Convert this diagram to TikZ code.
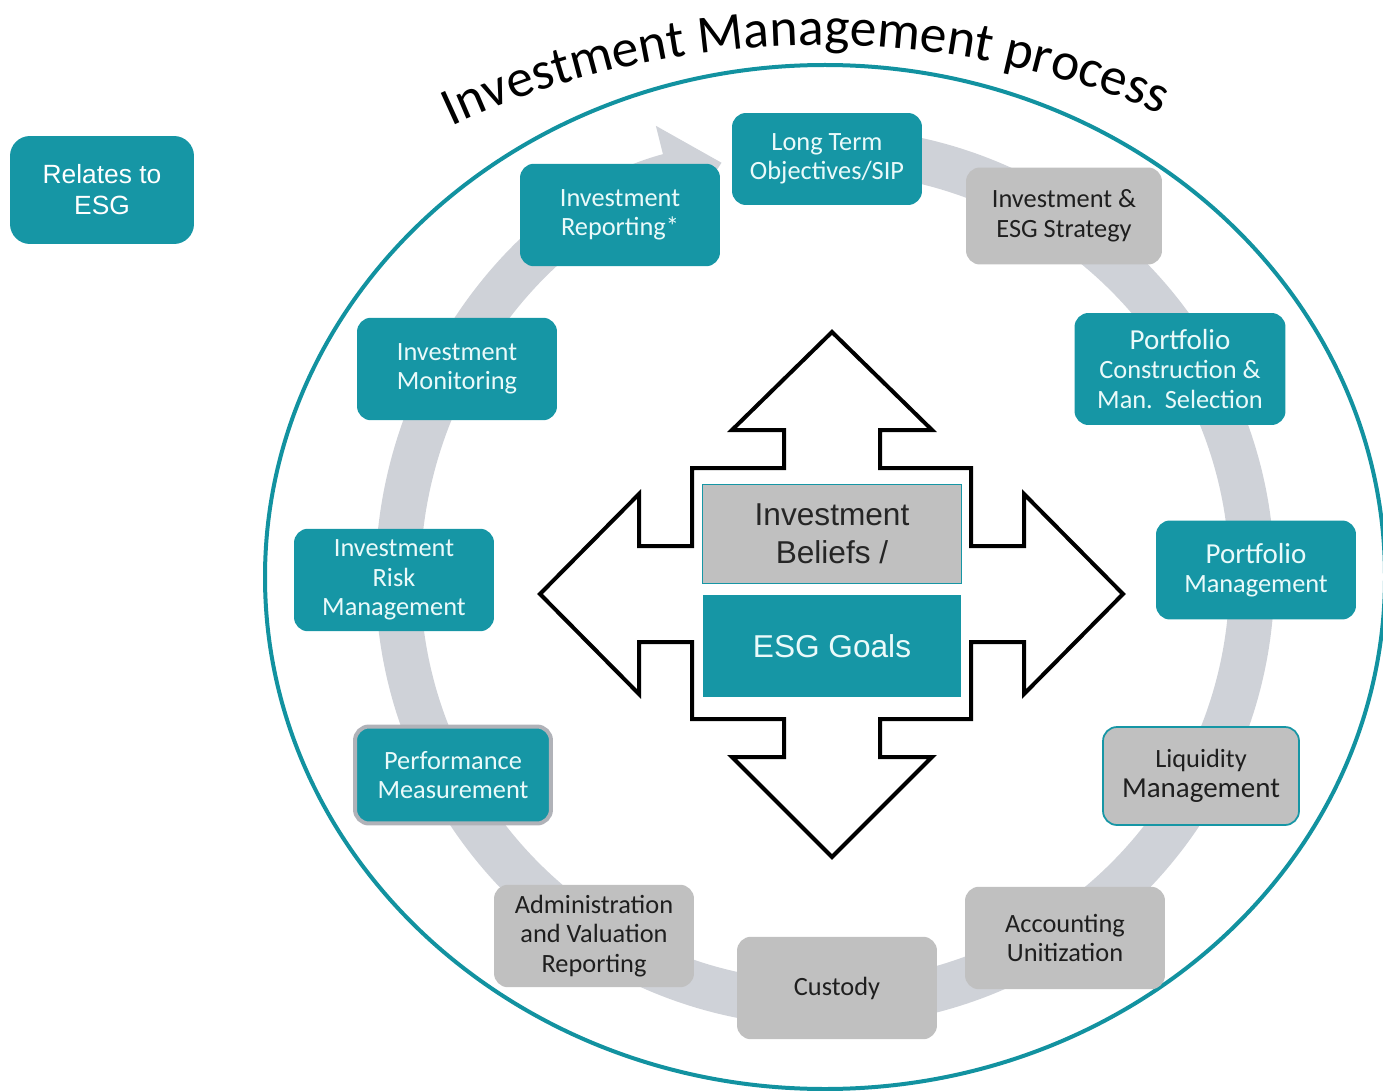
\documentclass[tikz,border=0pt]{standalone}
\usepackage{fontspec}
\setmainfont{Carlito}
\newfontfamily\arialfont{Liberation Sans}
\usetikzlibrary{arrows.meta, decorations.text}
\definecolor{esgTeal}{RGB}{22, 150, 165}
\definecolor{circleTeal}{RGB}{18, 146, 160}
\definecolor{boxGrey}{RGB}{192, 192, 192}
\definecolor{ringGrey}{RGB}{207, 210, 216}
\definecolor{lightText}{RGB}{234, 250, 250}

\begin{document}
\begin{tikzpicture}[x=0.02cm, y=-0.02cm,
    stage/.style={rounded corners=0.28cm, minimum width=4cm, minimum height=2.05cm,
      align=center, inner sep=2pt, font=\fontsize{15}{16.8}\selectfont},
    tealstage/.style={stage, fill=esgTeal, text=lightText},
    greystage/.style={stage, fill=boxGrey, text=black!88}]

    \useasboundingbox (0,0) rectangle (1383,1091);

    % Outer circle and process ring
    \draw[circleTeal, line width=0.08cm] (825,577) ellipse [x radius=560, y radius=512];
    \draw[ringGrey, line width=0.9cm, -{Triangle[length=1.1cm, width=2cm]}]
        (825,577) ++(-85:427) arc[start angle=-85, end angle=256, radius=427];

    % Title on the arc
    \path[decorate, decoration={text along path, text align=center,
        text={|\fontsize{30.5}{30}\selectfont|Investment Management process}}]
        (820,920) ++(-117:875) arc[start angle=-117, end angle=-65, radius=875];

    % Legend
    \node[fill=esgTeal, rounded corners=0.4cm, minimum width=3.68cm, minimum height=2.16cm,
        text=white, align=center, font=\arialfont\fontsize{15}{17.6}\selectfont]
        (legend) at (102,190) {Relates to\\ESG};

    % Process steps, clockwise from the top
    \node[tealstage, minimum width=3.8cm, minimum height=1.84cm] (objectives) at (827,159) {Long Term\\Objectives/SIP};
    \node[greystage, minimum width=3.92cm, minimum height=1.94cm] (strategy) at (1064,216) {Investment \&\\ESG Strategy};
    \node[tealstage, minimum width=4.22cm, minimum height=2.24cm] (construction) at (1180,369)
        {{\fontsize{16.5}{19}\selectfont Portfolio}\\Construction \&\\Man.\ \ Selection};
    \node[tealstage, minimum height=1.98cm] (portfolio) at (1256,570)
        {{\fontsize{16.5}{19}\selectfont Portfolio}\\Management};
    \node[greystage, draw=esgTeal, line width=1pt, minimum width=3.92cm, minimum height=1.96cm] (liquidity) at (1201,776)
        {Liquidity\\{\fontsize{16.5}{19}\selectfont Management}};
    \node[greystage] (accounting) at (1065,938) {Accounting\\Unitization};
    \node[greystage] (custody) at (837,988) {Custody};
    \node[greystage] (admin) at (594,936) {Administration\\and Valuation\\Reporting};
    \node[tealstage, draw=ringGrey!85!black, line width=0.08cm, minimum width=3.92cm, minimum height=1.94cm] (performance) at (453,775)
        {Performance\\Measurement};
    \node[tealstage] (risk) at (394,580) {Investment\\Risk\\Management};
    \node[tealstage] (monitoring) at (457,369) {Investment\\Monitoring};
    \node[tealstage] (reporting) at (620,215) {Investment\\Reporting*};

    % Four-way arrow in the middle
    \draw[line width=0.08cm, fill=white, line join=miter]
        (832,332) -- (932,430) -- (880,430) -- (880,468) -- (971,468) -- (971,546)
        -- (1024,546) -- (1024,494) -- (1123,594) -- (1024,694) -- (1024,642) -- (971,642)
        -- (971,719) -- (880,719) -- (880,757) -- (932,757) -- (832,857) -- (732,757)
        -- (784,757) -- (784,719) -- (692,719) -- (692,642) -- (639,642) -- (639,694)
        -- (540,594) -- (639,494) -- (639,546) -- (692,546) -- (692,468) -- (784,468)
        -- (784,430) -- (732,430) -- cycle;

    \node[fill=boxGrey, draw=esgTeal, line width=0.6pt, minimum width=5.18cm, minimum height=1.98cm,
        align=center, font=\arialfont\fontsize{18}{21.5}\selectfont, text=black!85]
        (beliefs) at (832,534) {Investment\\Beliefs /};
    \node[fill=esgTeal, minimum width=5.18cm, minimum height=2.04cm,
        font=\arialfont\fontsize{18}{21.5}\selectfont, text=lightText]
        (goals) at (832,646) {ESG Goals};
\end{tikzpicture}
\end{document}
